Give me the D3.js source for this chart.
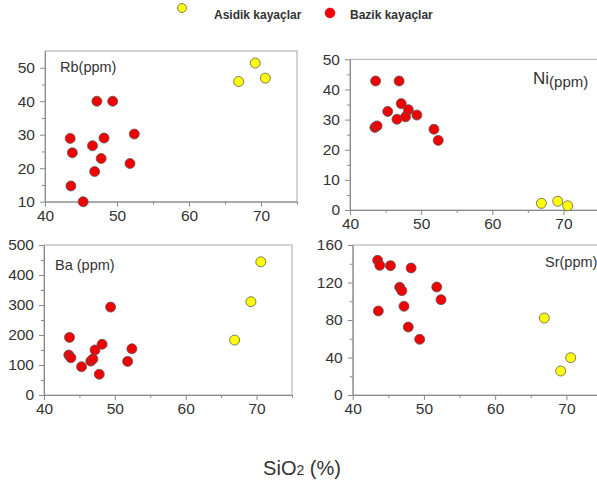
<!DOCTYPE html>
<html>
<head>
<meta charset="utf-8">
<script src="https://cdn.jsdelivr.net/npm/d3@7"></script>
<style>
  html, body { margin: 0; padding: 0; background: #fff; }
  svg { display: block; font-family: "Liberation Sans", Arial, sans-serif; }
</style>
</head>
<body>
<svg id="chart" width="597" height="488"></svg>
<script>
// SiO2 (%) of each sample
const sio2Bazik  = [43.5, 43.6, 43.8, 45.3, 46.6, 46.9, 47.2, 47.8, 48.2, 49.4, 51.8, 52.4];
const sio2Asidik = [66.9, 69.2, 70.6];

// Trace elements (ppm), same sample order as above
const rbBazik  = [28.9, 14.7, 24.6, 10.0, 26.7, 19.0, 40.0, 22.9, 29.0, 40.0, 21.4, 30.2];
const rbAsidik = [45.9, 51.4, 46.9];
const niBazik  = [27.4, 42.8, 27.9, 32.7, 30.1, 42.8, 35.3, 30.9, 33.3, 31.5, 26.8, 23.1];
const niAsidik = [2.2, 2.9, 1.4];
const baBazik  = [133, 192, 124, 94, 113, 120, 150, 69, 169, 293, 112, 154];
const baAsidik = [183, 311, 444];
const srBazik  = [143.7, 89.6, 138.3, 138.0, 114.9, 111.3, 94.6, 72.5, 135.5, 59.4, 115.2, 101.7];
const srAsidik = [82.1, 25.6, 39.8];

// Axis ticks
const xTicks  = [40, 50, 60, 70];
const rbTicks = [10, 20, 30, 40, 50];
const niTicks = [0, 10, 20, 30, 40, 50];
const baTicks = [0, 100, 200, 300, 400, 500];
const srTicks = [0, 40, 80, 120, 160];

const legendLabels = ["Asidik kayaçlar", "Bazik kayaçlar"];
const xTitle = "SiO";

const colors = { asidik: "#ffff00", bazik: "#f00000" };

const svg = d3.select("#chart");
svg.append("rect").attr("width", 597).attr("height", 488).attr("fill", "#fff");

const panels = [
  { box: [45, 51, 297, 201.7],   ydom: [10, 55],  yt: rbTicks, ym: 5,
    bazik: rbBazik, asidik: rbAsidik },
  { box: [350, 59.3, 599, 210],  ydom: [0, 50],   yt: niTicks, ym: 5,
    bazik: niBazik, asidik: niAsidik },
  { box: [44, 245, 292, 395],    ydom: [0, 500],  yt: baTicks, ym: 50,
    bazik: baBazik, asidik: baAsidik },
  { box: [352.7, 245, 602, 395], ydom: [0, 160],  yt: srTicks, ym: 20,
    bazik: srBazik, asidik: srAsidik }
];

const axisColor = "#8a8a8a";
const textColor = "#333";

panels.forEach(p => {
  const [x0, y0, x1, y1] = p.box;
  const x = d3.scaleLinear().domain([40, 75]).range([x0, x1]);
  const y = d3.scaleLinear().domain(p.ydom).range([y1, y0]);
  const g = svg.append("g");

  // frame
  g.append("rect")
    .attr("x", x0).attr("y", y0).attr("width", x1 - x0).attr("height", y1 - y0)
    .attr("fill", "none").attr("stroke", "#a8a8a8").attr("stroke-width", 1);

  // minor ticks
  const xMinor = d3.range(45, 76, 10);
  const yMinor = d3.range(p.ydom[0] + p.ym, p.ydom[1], 2 * p.ym);
  const xmAxis = d3.axisBottom(x).tickValues(xMinor).tickSize(3).tickFormat("");
  const ymAxis = d3.axisLeft(y).tickValues(yMinor).tickSize(3).tickFormat("");
  g.append("g").attr("transform", `translate(0,${y1})`).call(xmAxis)
    .call(s => s.select(".domain").remove())
    .call(s => s.selectAll("line").attr("stroke", axisColor));
  g.append("g").attr("transform", `translate(${x0},0)`).call(ymAxis)
    .call(s => s.select(".domain").remove())
    .call(s => s.selectAll("line").attr("stroke", axisColor));

  // major axes
  const xAxis = d3.axisBottom(x).tickValues(xTicks).tickSize(5).tickSizeOuter(0).tickPadding(3);
  const yAxis = d3.axisLeft(y).tickValues(p.yt).tickSize(5).tickSizeOuter(0).tickPadding(5);
  g.append("g").attr("transform", `translate(0,${y1})`).call(xAxis)
    .call(s => s.select(".domain").attr("stroke", axisColor))
    .call(s => s.selectAll("line").attr("stroke", axisColor))
    .call(s => s.selectAll("text").attr("font-size", 15.5).attr("fill", textColor)
      .attr("font-family", "Liberation Sans, Arial, sans-serif"));
  g.append("g").attr("transform", `translate(${x0},0)`).call(yAxis)
    .call(s => s.select(".domain").attr("stroke", axisColor))
    .call(s => s.selectAll("line").attr("stroke", axisColor))
    .call(s => s.selectAll("text").attr("font-size", 15.5).attr("fill", textColor)
      .attr("font-family", "Liberation Sans, Arial, sans-serif"));

  // points
  const pts = p.bazik.map((v, i) => ({ x: sio2Bazik[i], y: v, c: colors.bazik }))
    .concat(p.asidik.map((v, i) => ({ x: sio2Asidik[i], y: v, c: colors.asidik })));
  g.selectAll("circle.pt").data(pts).join("circle")
    .attr("class", "pt")
    .attr("cx", d => x(d.x)).attr("cy", d => y(d.y)).attr("r", 5)
    .attr("fill", d => d.c).attr("stroke", "#5a5a5a").attr("stroke-width", 0.8);
});

// panel labels
const lab = (px, py, parts) => {
  const t = svg.append("text").attr("x", px).attr("y", py).attr("fill", textColor);
  parts.forEach(pt => {
    const ts = t.append("tspan").text(pt.t).attr("font-size", pt.s);
    if (pt.dy) ts.attr("dy", pt.dy);
  });
};
lab(60, 72, [{ t: "Rb", s: 14.5 }, { t: "(ppm)", s: 14.5 }]);
lab(533, 84, [{ t: "Ni", s: 17 }, { t: "(ppm)", s: 15, dy: 3 }]);
lab(55, 270, [{ t: "Ba (ppm)", s: 14.5 }]);
lab(545, 267, [{ t: "Sr(ppm)", s: 14.5 }]);

// legend
const legend = svg.append("g");
legend.append("circle").attr("cx", 182).attr("cy", 8).attr("r", 4.5)
  .attr("fill", colors.asidik).attr("stroke", "#5a5a5a").attr("stroke-width", 0.8);
legend.append("text").attr("x", 214).attr("y", 19).text(legendLabels[0])
  .attr("font-size", 12).attr("font-weight", "bold").attr("fill", textColor);
legend.append("circle").attr("cx", 330).attr("cy", 13).attr("r", 5)
  .attr("fill", colors.bazik).attr("stroke", "#c00000").attr("stroke-width", 0.5);
legend.append("text").attr("x", 350).attr("y", 19).text(legendLabels[1])
  .attr("font-size", 12).attr("font-weight", "bold").attr("fill", textColor);

// x title
const xt = svg.append("text").attr("x", 302).attr("y", 475).attr("text-anchor", "middle")
  .attr("fill", textColor).attr("font-size", 20);
xt.append("tspan").text(xTitle);
xt.append("tspan").text("2").attr("font-size", 14);
xt.append("tspan").text(" (%)");
</script>
</body>
</html>
